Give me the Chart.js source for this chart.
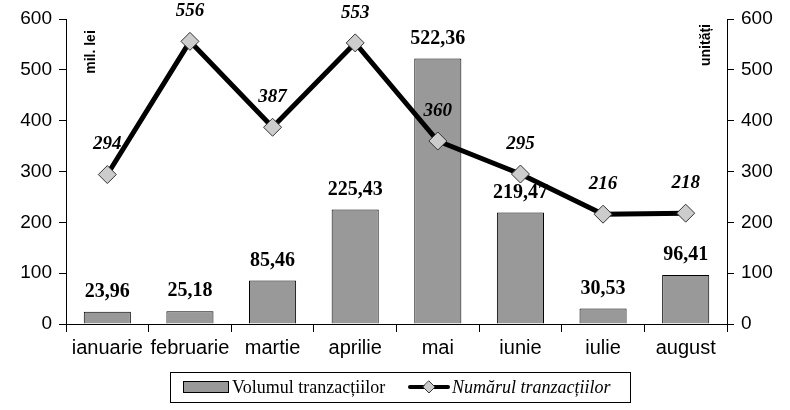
<!DOCTYPE html>
<html>
<head>
<meta charset="utf-8">
<script src="https://cdn.jsdelivr.net/npm/chart.js@4"></script>
<style>
  html, body { margin: 0; padding: 0; background: #fff; }
  #wrap { width: 790px; height: 410px; }
</style>
</head>
<body>
<div id="wrap"><canvas id="myChart" width="790" height="410"></canvas></div>
<script>
var luni = ["ianuarie", "februarie", "martie", "aprilie", "mai", "iunie", "iulie", "august"];
var volum = [23.96, 25.18, 85.46, 225.43, 522.36, 219.47, 30.53, 96.41];
var numar = [294, 556, 387, 553, 360, 295, 216, 218];
var yTicks = [0, 100, 200, 300, 400, 500, 600];
var numeVolum = "Volumul tranzacțiilor";
var numeNumar = "Numărul tranzacțiilor";
var titluStanga = "mil. lei";
var titluDreapta = "unități";

var serif = "'Liberation Serif', 'Times New Roman', serif";
var sans = "'Liberation Sans', Arial, sans-serif";

// value labels above bars and points
var etichete = {
  id: 'etichete',
  afterDatasetsDraw: function(chart) {
    var ctx = chart.ctx;
    ctx.save();
    ctx.fillStyle = '#000';
    ctx.textAlign = 'center';
    ctx.textBaseline = 'middle';
    var bars = chart.getDatasetMeta(0).data;
    ctx.font = 'bold 20px ' + serif;
    bars.forEach(function(b, i) {
      ctx.fillText(volum[i].toFixed(2).replace('.', ','), b.x, b.y - 20);
    });
    var pts = chart.getDatasetMeta(1).data;
    ctx.font = 'italic bold 19px ' + serif;
    pts.forEach(function(p, i) {
      ctx.fillText(String(numar[i]), p.x, p.y - 30);
    });

    // axis titles inside the plot
    ctx.font = 'bold 14px ' + sans;
    ctx.save();
    ctx.translate(91, 52);
    ctx.rotate(-Math.PI / 2);
    ctx.fillText(titluStanga, 0, 0);
    ctx.restore();
    ctx.save();
    ctx.translate(706, 45);
    ctx.rotate(-Math.PI / 2);
    ctx.fillText(titluDreapta, 0, 0);
    ctx.restore();
    ctx.restore();
  }
};

// legend box at the bottom
var legenda = {
  id: 'legenda',
  afterDraw: function(chart) {
    var ctx = chart.ctx;
    ctx.save();
    ctx.strokeStyle = '#000';
    ctx.lineWidth = 1;
    ctx.strokeRect(170.5, 372.5, 460, 30);

    var ds0 = chart.data.datasets[0];
    ctx.fillStyle = ds0.backgroundColor;
    ctx.fillRect(183.5, 381.5, 45, 11);
    ctx.strokeStyle = ds0.borderColor;
    ctx.strokeRect(183.5, 381.5, 45, 11);

    ctx.fillStyle = '#000';
    ctx.textBaseline = 'middle';
    ctx.textAlign = 'left';
    ctx.font = '18px ' + serif;
    ctx.fillText(numeVolum, 232, 388);

    var ds1 = chart.data.datasets[1];
    ctx.strokeStyle = ds1.borderColor;
    ctx.lineWidth = 4;
    ctx.lineCap = 'round';
    ctx.beginPath();
    ctx.moveTo(410, 387);
    ctx.lineTo(448, 387);
    ctx.stroke();
    ctx.fillStyle = ds1.pointBackgroundColor;
    ctx.strokeStyle = ds1.pointBorderColor;
    ctx.lineWidth = 1;
    ctx.beginPath();
    ctx.moveTo(429, 381);
    ctx.lineTo(435, 387);
    ctx.lineTo(429, 393);
    ctx.lineTo(423, 387);
    ctx.closePath();
    ctx.fill();
    ctx.stroke();

    ctx.fillStyle = '#000';
    ctx.font = 'italic 18px ' + serif;
    ctx.fillText(numeNumar, 452, 388);
    ctx.restore();
  }
};

new Chart("myChart", {
  type: "bar",
  data: {
    labels: luni,
    datasets: [{
      type: "bar",
      label: numeVolum,
      data: volum,
      backgroundColor: "#999999",
      borderColor: "#000000",
      borderWidth: 1,
      barPercentage: 0.57,
      categoryPercentage: 1,
      yAxisID: "y",
      order: 2
    }, {
      type: "line",
      label: numeNumar,
      data: numar,
      borderColor: "#000000",
      borderWidth: 5,
      pointStyle: "rectRot",
      pointRadius: 9,
      pointBackgroundColor: "#cccccc",
      pointBorderColor: "#333333",
      pointBorderWidth: 1,
      yAxisID: "y1",
      order: 1
    }]
  },
  options: {
    responsive: false,
    animation: false,
    layout: { padding: { top: 19, bottom: 46, left: 0, right: 0 } },
    plugins: {
      legend: { display: false },
      tooltip: { enabled: false }
    },
    scales: {
      x: {
        grid: { drawOnChartArea: false, tickLength: 8, color: "#000", offset: true },
        border: { color: "#000" },
        ticks: { color: "#000", font: { family: sans, size: 20 }, padding: 4, maxRotation: 0 },
        afterFit: function(s) { s.height = 40; }
      },
      y: {
        position: "left",
        min: 0, max: 600,
        afterBuildTicks: function(s) { s.ticks = yTicks.map(function(v) { return { value: v }; }); },
        grid: { drawOnChartArea: false, tickLength: 7, color: "#000" },
        border: { color: "#000" },
        ticks: { color: "#000", font: { family: sans, size: 19 }, padding: 7 },
        afterFit: function(s) { s.width = 66; }
      },
      y1: {
        position: "right",
        min: 0, max: 600,
        afterBuildTicks: function(s) { s.ticks = yTicks.map(function(v) { return { value: v }; }); },
        grid: { drawOnChartArea: false, tickLength: 7, color: "#000" },
        border: { color: "#000" },
        ticks: { color: "#000", font: { family: sans, size: 19 }, padding: 7 },
        afterFit: function(s) { s.width = 63; }
      }
    }
  },
  plugins: [etichete, legenda]
});
</script>
</body>
</html>
